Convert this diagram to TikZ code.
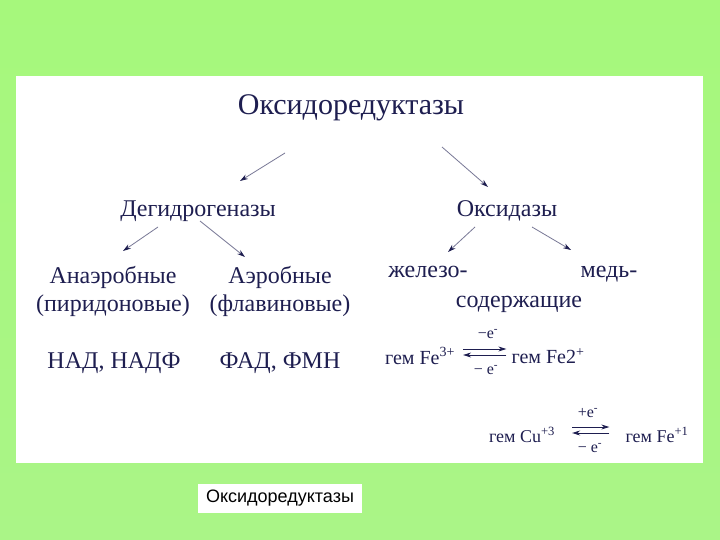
\documentclass[tikz,border=0pt]{standalone}
\usepackage{fontspec}
\setmainfont{Liberation Serif}
\newfontfamily\captionfont{Liberation Sans}
\usetikzlibrary{arrows.meta,positioning}
\definecolor{inkNavy}{RGB}{30,30,80}
\definecolor{lineGray}{RGB}{120,120,150}
\definecolor{bgTop}{RGB}{166,248,124}
\definecolor{bgMid}{RGB}{190,255,165}
\definecolor{bgBottom}{RGB}{170,245,135}
\tikzstyle{heading} = [text=inkNavy, inner sep=0pt,
                      font=\fontsize{30}{34}\selectfont]
\tikzstyle{branch} = [text=inkNavy, inner sep=0pt, align=center,
                      font=\fontsize{24}{28}\selectfont]
\tikzstyle{reaction} = [text=inkNavy, inner sep=0pt,
                      font=\fontsize{20}{22}\selectfont]
\tikzstyle{charge} = [text=inkNavy, inner sep=0pt,
                      font=\fontsize{16}{18}\selectfont]
\tikzstyle{treeArrow} = [draw=lineGray, line width=0.8pt,
                      -{Stealth[length=8pt,width=5pt,color=inkNavy]}]
\tikzstyle{eqArrow} = [draw=inkNavy, line width=0.9pt,
                      -{Stealth[length=8pt,width=5pt]}]

\begin{document}
\begin{tikzpicture}[x=1pt, y=-1pt]

  \useasboundingbox (0,0) rectangle (720,540);
  \fill[top color=bgTop, middle color=bgMid, bottom color=bgBottom]
    (0,0) rectangle (720,540);
  \fill[white] (16,76) rectangle (703,463);

  \node (title) [heading] at (351,108) {Оксидоредуктазы};

  \node (dehyd) [branch] at (198,211) {Дегидрогеназы};
  \node (oxid) [branch] at (507,211) {Оксидазы};

  \node (anaer) [branch] at (113,291) {Анаэробные\\(пиридоновые)};
  \node (aer) [branch] at (280,291) {Аэробные\\(флавиновые)};

  \node (nad) [branch] at (114,363) {НАД, НАДФ};
  \node (fad) [branch] at (280,363) {ФАД, ФМН};

  \node (iron) [branch, anchor=base] at (428,277) {железо-};
  \node (copper) [branch, anchor=base] at (609,277) {медь-};
  \node (contain) [branch] at (519,304) {содержащие};

  \draw[treeArrow] ([shift={(-66,45)}]title.center) -- ([shift={(42,-30)}]dehyd.center);
  \draw[treeArrow] ([shift={(91,39)}]title.center) -- ([shift={(-19,-24)}]oxid.center);
  \draw[treeArrow] ([shift={(-40,16)}]dehyd.center) -- ([shift={(10,-40)}]anaer.center);
  \draw[treeArrow] ([shift={(2,10)}]dehyd.center) -- ([shift={(-35,-34)}]aer.center);
  \draw[treeArrow] ([shift={(-32,16)}]oxid.center) -- ([shift={(20,-25)}]iron.base);
  \draw[treeArrow] ([shift={(25,16)}]oxid.center) -- ([shift={(-38,-27)}]copper.base);

  % heme iron
  \node (fe3) [reaction] at (420,356) {гем Fe\textsuperscript{3+}};
  \node (fe2) [reaction] at (548,356) {гем Fe2\textsuperscript{+}};
  \node (fe-lose) [charge] at (488,334) {−e\textsuperscript{-}};
  \node (fe-gain) [charge] at (486,370) {− e\textsuperscript{-}};
  \draw[eqArrow] ([yshift=7pt]fe3.east) -- ([yshift=7pt]fe2.west)
    [shorten <=8pt, shorten >=5pt];
  \draw[eqArrow] ([yshift=1pt]fe2.west) -- ([yshift=1pt]fe3.east)
    [shorten <=5pt, shorten >=8pt];

  % heme copper
  \node (cu) [reaction, font=\fontsize{18}{20}\selectfont] at (522,435)
    {гем Cu\textsuperscript{+3}};
  \node (fe1) [reaction, font=\fontsize{18}{20}\selectfont] at (657,435)
    {гем Fe\textsuperscript{+1}};
  \node (cu-gain) [charge] at (588,413) {+e\textsuperscript{-}};
  \node (cu-lose) [charge] at (590,448) {− e\textsuperscript{-}};
  \draw[eqArrow] ([yshift=8pt]cu.east) -- ([yshift=8pt]fe1.west)
    [shorten <=17pt, shorten >=16pt];
  \draw[eqArrow] ([yshift=2pt]fe1.west) -- ([yshift=2pt]cu.east)
    [shorten <=16pt, shorten >=17pt];

  \node (caption) [fill=white, minimum width=164pt, minimum height=29pt,
    inner sep=0pt, font=\captionfont\fontsize{18}{20}\selectfont]
    at (280,498) {Оксидоредуктазы};

\end{tikzpicture}
\end{document}
